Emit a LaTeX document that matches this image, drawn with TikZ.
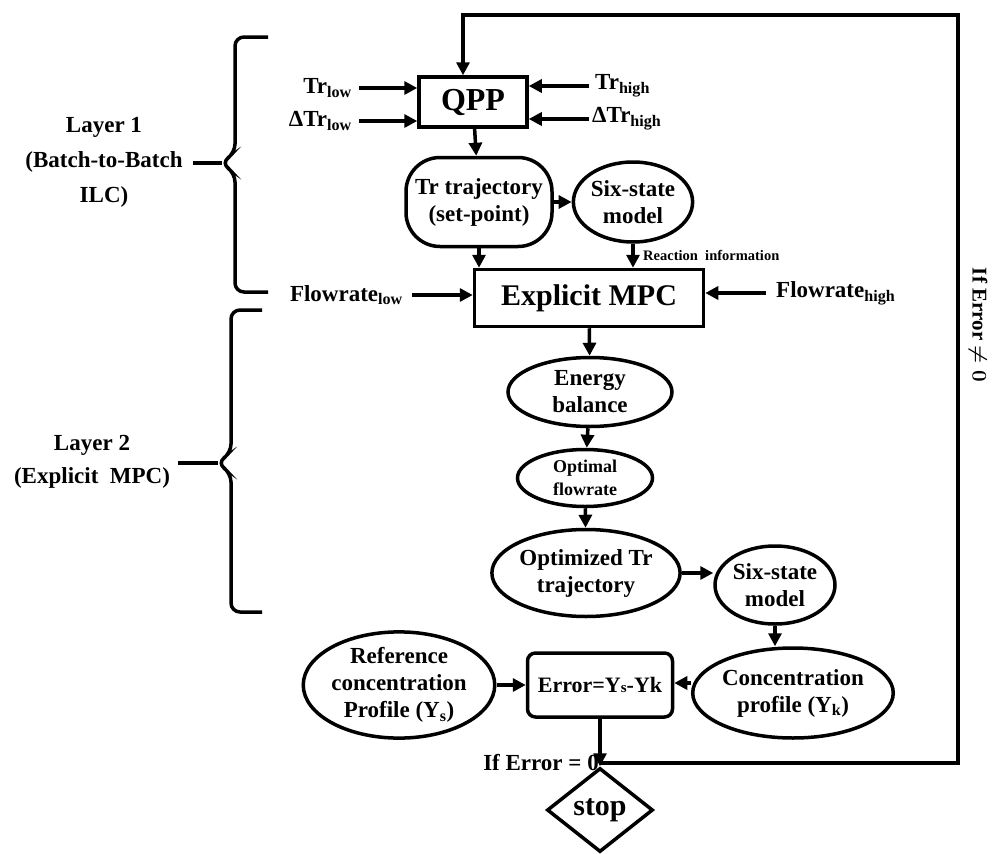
\documentclass[tikz,border=0pt]{standalone}
\usepackage{fontspec}
\setmainfont{Liberation Serif}
\usepackage{tikz}
\usetikzlibrary{
    shapes.geometric, shapes.misc,
    arrows.meta, positioning
}
\tikzset{
  base/.style={line width=3.5pt, align=center, inner sep=0pt,
               font=\fontsize{23}{27}\selectfont\bfseries},
  box/.style={base, rectangle, draw},
  rbox/.style={base, rectangle, draw, rounded corners=8pt},
  oval/.style={base, ellipse, draw},
  dia/.style={base, diamond, draw, aspect=1.25},
  lbl/.style={inner sep=1pt, align=center,
              font=\fontsize{23}{27}\selectfont\bfseries},
  arr/.style={-{Triangle[length=13pt,width=13pt]}, line width=3.5pt},
  ln/.style={line width=3.5pt},
  brc/.style={line width=3.5pt, rounded corners=9pt},
}

\begin{document}
\begin{tikzpicture}[x=1pt, y=-1pt]
  \useasboundingbox (0,0) rectangle (994,854);
  % layer 1
  \node[box, minimum width=108pt, minimum height=50pt,
        font=\fontsize{32}{34}\selectfont\bfseries] (qpp) at (473,102) {QPP};
  \node[box, rounded corners=34pt, minimum width=146pt, minimum height=89pt] (traj)
    at (479,202) {Tr trajectory\\(set-point)};
  \node[oval, minimum width=117pt, minimum height=80pt] (sixa) at (633,202)
    {Six-state\\model};
  \node[box, minimum width=229pt, minimum height=57pt,
        font=\fontsize{30}{32}\selectfont\bfseries] (mpc) at (589,298) {Explicit MPC};
  \node[lbl, anchor=east] (trl) at (353,88) {Tr\textsubscript{low}};
  \node[lbl, anchor=east] (dtrl) at (353,121) {ΔTr\textsubscript{low}};
  \node[lbl, anchor=west] (trh) at (594,86) {Tr\textsubscript{high}};
  \node[lbl, anchor=west] (dtrh) at (591,119) {ΔTr\textsubscript{high}};
  \node[lbl, anchor=east] (fll) at (404,295) {Flowrate\textsubscript{low}};
  \node[lbl, anchor=west] (flh) at (775,293) {Flowrate\textsubscript{high}};
  \node[lbl, anchor=west, font=\fontsize{14.5}{16}\selectfont\bfseries] (reac)
    at (642,255) {Reaction\ \ information};
  % layer 2
  \node[oval, minimum width=164pt, minimum height=69pt] (energy) at (590,392)
    {Energy\\balance};
  \node[oval, minimum width=135pt, minimum height=57pt,
        font=\fontsize{18}{23}\selectfont\bfseries] (optflow) at (585,478)
    {Optimal\\flowrate};
  \node[oval, minimum width=157pt, minimum height=87pt] (opttraj) at (586,573)
    {Optimized Tr\\trajectory};
  \node[oval, minimum width=120pt, minimum height=78pt] (sixb) at (775,585)
    {Six-state\\model};
  \node[oval, minimum width=190pt, minimum height=90pt] (conc) at (793,693)
    {Concentration\\profile (Y\textsubscript{k})};
  \node[rbox, minimum width=145pt, minimum height=64pt,
        font=\fontsize{22}{24}\selectfont\bfseries] (err) at (600,685)
    {Error=Y{\fontsize{15}{16}\selectfont s}-Yk};
  \node[oval, minimum width=188pt, minimum height=99pt] (refc) at (399,685)
    {Reference\\concentration\\Profile (Y\textsubscript{s})};
  \node[dia, minimum width=106pt, minimum height=84pt,
        font=\fontsize{30}{32}\selectfont\bfseries] (stop) at (600,810) {stop};
  % braces and side labels
  \node[lbl, font=\fontsize{23}{35}\selectfont\bfseries] (lay1) at (104,162)
    {Layer 1\\(Batch-to-Batch\\ILC)};
  \node[lbl, font=\fontsize{23}{33}\selectfont\bfseries] (lay2) at (92,462)
    {Layer 2\\(Explicit\ \ MPC)};
  \draw[brc] (268,37) -- (235,37) -- (235,153) -- (221,163) -- (235,173)
    -- (235,292) -- (268,292);
  \draw[ln] (193,163) -- (222,163);
  \draw[brc] (262,310) -- (231,310) -- (231,453) -- (217,463) -- (231,473)
    -- (231,612) -- (262,612);
  \draw[ln] (178,463) -- (218,463);
  \node[lbl, rotate=-90, font=\fontsize{21}{24}\selectfont\bfseries\boldmath] (ifne)
    at (978,325) {If Error $\neq 0$};
  % connectors
  \draw[arr] ([xshift=6pt]trl.east) -- (trl.east -| qpp.west);
  \draw[arr] ([xshift=6pt]dtrl.east) -- (dtrl.east -| qpp.west);
  \draw[arr] ([xshift=-5pt]trh.west) -- (trh.west -| qpp.east);
  \draw[arr] ([xshift=-2pt]dtrh.west) -- (dtrh.west -| qpp.east);
  \draw[arr] (qpp) -- (traj);
  \draw[arr] (traj) -- (sixa);
  \draw[arr] (traj) -- (traj |- mpc.north);
  \draw[arr] (sixa) -- (sixa |- mpc.north);
  \draw[arr] ([xshift=8pt]fll.east) -- (fll.east -| mpc.west);
  \draw[arr] ([xshift=-9pt]flh.west) -- (flh.west -| mpc.east);
  \draw[arr] (mpc) -- (energy);
  \draw[arr] (energy) -- (optflow);
  \draw[arr] (optflow) -- (opttraj);
  \draw[arr] (opttraj.east) -- (opttraj.east -| sixb.west);
  \draw[arr] (sixb) -- (sixb |- conc.north);
  \draw[arr] (refc) -- (err);
  \draw[arr] ([yshift=10pt]conc.west) -- ([yshift=10pt]conc.west -| err.east);
  \draw[arr] (err) -- (stop);
  \coordinate (jn) at (err.south |- 0,763);
  \coordinate (cr) at (958,763);
  \coordinate (ct) at (958,15);
  \node[lbl, anchor=east] (ifeq) at (jn) {If Error = 0};
  \draw[arr] (jn) -- (cr) -- (ct) -| ([xshift=-10pt]qpp.north);
\end{tikzpicture}
\end{document}
